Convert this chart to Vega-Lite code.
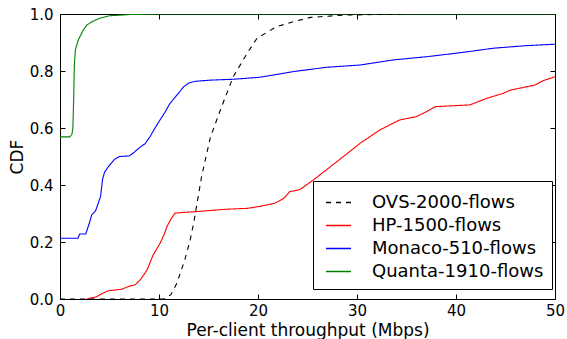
{
  "$schema": "https://vega.github.io/schema/vega-lite/v6.json",
  "width": 495,
  "height": 285,
  "autosize": "none",
  "padding": {"left": 60, "top": 14, "right": 12, "bottom": 40},
  "background": "white",
  "config": {
    "view": {"stroke": "black", "strokeWidth": 1},
    "font": "DejaVu Sans",
    "axis": {
      "domain": false,
      "grid": false,
      "tickColor": "black",
      "tickSize": -5,
      "tickWidth": 1,
      "labelFlush": false,
      "labelOverlap": false,
      "labelFont": "DejaVu Sans",
      "labelFontSize": 15,
      "labelColor": "black",
      "titleFont": "DejaVu Sans",
      "titleFontSize": 17,
      "titleFontWeight": "normal",
      "titleColor": "black"
    },
    "legend": {
      "orient": "none",
      "legendX": 253,
      "legendY": 167,
      "title": null,
      "strokeColor": "black",
      "fillColor": "white",
      "padding": 8,
      "symbolType": "stroke",
      "symbolSize": 625,
      "symbolStrokeWidth": 1.3,
      "symbolOffset": 4,
      "labelOffset": 20,
      "labelLimit": 400,
      "labelFont": "DejaVu Sans",
      "labelFontSize": 18,
      "labelColor": "black",
      "rowPadding": 0
    }
  },
  "data": {
    "values": [
      {"s": "Quanta-1910-flows", "x": 0, "y": 0.569},
      {"s": "Quanta-1910-flows", "x": 1.0, "y": 0.569},
      {"s": "Quanta-1910-flows", "x": 1.2, "y": 0.577},
      {"s": "Quanta-1910-flows", "x": 1.3, "y": 0.6},
      {"s": "Quanta-1910-flows", "x": 1.38, "y": 0.7},
      {"s": "Quanta-1910-flows", "x": 1.45, "y": 0.82},
      {"s": "Quanta-1910-flows", "x": 1.55, "y": 0.874},
      {"s": "Quanta-1910-flows", "x": 1.85, "y": 0.909},
      {"s": "Quanta-1910-flows", "x": 2.35, "y": 0.944},
      {"s": "Quanta-1910-flows", "x": 2.7, "y": 0.961},
      {"s": "Quanta-1910-flows", "x": 3.3, "y": 0.974},
      {"s": "Quanta-1910-flows", "x": 4.0, "y": 0.985},
      {"s": "Quanta-1910-flows", "x": 5.05, "y": 0.994},
      {"s": "Quanta-1910-flows", "x": 7, "y": 0.998},
      {"s": "Quanta-1910-flows", "x": 10, "y": 1.0},
      {"s": "Quanta-1910-flows", "x": 50, "y": 1.0},

      {"s": "Monaco-510-flows", "x": 0, "y": 0.213},
      {"s": "Monaco-510-flows", "x": 1.8, "y": 0.213},
      {"s": "Monaco-510-flows", "x": 2.0, "y": 0.228},
      {"s": "Monaco-510-flows", "x": 2.6, "y": 0.228},
      {"s": "Monaco-510-flows", "x": 3.0, "y": 0.27},
      {"s": "Monaco-510-flows", "x": 3.2, "y": 0.295},
      {"s": "Monaco-510-flows", "x": 3.6, "y": 0.31},
      {"s": "Monaco-510-flows", "x": 3.9, "y": 0.34},
      {"s": "Monaco-510-flows", "x": 4.1, "y": 0.36},
      {"s": "Monaco-510-flows", "x": 4.3, "y": 0.42},
      {"s": "Monaco-510-flows", "x": 4.5, "y": 0.445},
      {"s": "Monaco-510-flows", "x": 4.9, "y": 0.465},
      {"s": "Monaco-510-flows", "x": 5.5, "y": 0.49},
      {"s": "Monaco-510-flows", "x": 6.0, "y": 0.5},
      {"s": "Monaco-510-flows", "x": 7.0, "y": 0.502},
      {"s": "Monaco-510-flows", "x": 7.5, "y": 0.515},
      {"s": "Monaco-510-flows", "x": 8.1, "y": 0.533},
      {"s": "Monaco-510-flows", "x": 8.6, "y": 0.545},
      {"s": "Monaco-510-flows", "x": 9.1, "y": 0.57},
      {"s": "Monaco-510-flows", "x": 9.6, "y": 0.6},
      {"s": "Monaco-510-flows", "x": 10.1, "y": 0.628},
      {"s": "Monaco-510-flows", "x": 10.6, "y": 0.655},
      {"s": "Monaco-510-flows", "x": 11.1, "y": 0.686},
      {"s": "Monaco-510-flows", "x": 11.8, "y": 0.715},
      {"s": "Monaco-510-flows", "x": 12.5, "y": 0.745},
      {"s": "Monaco-510-flows", "x": 13.0, "y": 0.758},
      {"s": "Monaco-510-flows", "x": 13.7, "y": 0.764},
      {"s": "Monaco-510-flows", "x": 15.2, "y": 0.768},
      {"s": "Monaco-510-flows", "x": 17.5, "y": 0.771},
      {"s": "Monaco-510-flows", "x": 20.2, "y": 0.778},
      {"s": "Monaco-510-flows", "x": 23.6, "y": 0.798},
      {"s": "Monaco-510-flows", "x": 26.9, "y": 0.813},
      {"s": "Monaco-510-flows", "x": 30.3, "y": 0.821},
      {"s": "Monaco-510-flows", "x": 33.7, "y": 0.839},
      {"s": "Monaco-510-flows", "x": 37, "y": 0.85},
      {"s": "Monaco-510-flows", "x": 40.4, "y": 0.864},
      {"s": "Monaco-510-flows", "x": 43.8, "y": 0.88},
      {"s": "Monaco-510-flows", "x": 47.1, "y": 0.889},
      {"s": "Monaco-510-flows", "x": 50, "y": 0.894},

      {"s": "HP-1500-flows", "x": 2.7, "y": 0},
      {"s": "HP-1500-flows", "x": 3.7, "y": 0.008},
      {"s": "HP-1500-flows", "x": 4.3, "y": 0.02},
      {"s": "HP-1500-flows", "x": 4.9, "y": 0.029},
      {"s": "HP-1500-flows", "x": 6.2, "y": 0.034},
      {"s": "HP-1500-flows", "x": 7.1, "y": 0.046},
      {"s": "HP-1500-flows", "x": 7.6, "y": 0.05},
      {"s": "HP-1500-flows", "x": 8.1, "y": 0.067},
      {"s": "HP-1500-flows", "x": 8.8, "y": 0.102},
      {"s": "HP-1500-flows", "x": 9.4, "y": 0.154},
      {"s": "HP-1500-flows", "x": 10.1, "y": 0.195},
      {"s": "HP-1500-flows", "x": 10.5, "y": 0.225},
      {"s": "HP-1500-flows", "x": 10.8, "y": 0.254},
      {"s": "HP-1500-flows", "x": 11.2, "y": 0.28},
      {"s": "HP-1500-flows", "x": 11.6, "y": 0.301},
      {"s": "HP-1500-flows", "x": 12.5, "y": 0.304},
      {"s": "HP-1500-flows", "x": 13.5, "y": 0.306},
      {"s": "HP-1500-flows", "x": 16.8, "y": 0.315},
      {"s": "HP-1500-flows", "x": 18.9, "y": 0.318},
      {"s": "HP-1500-flows", "x": 20.2, "y": 0.325},
      {"s": "HP-1500-flows", "x": 21.7, "y": 0.336},
      {"s": "HP-1500-flows", "x": 22.6, "y": 0.353},
      {"s": "HP-1500-flows", "x": 23.2, "y": 0.377},
      {"s": "HP-1500-flows", "x": 24.2, "y": 0.383},
      {"s": "HP-1500-flows", "x": 25.6, "y": 0.418},
      {"s": "HP-1500-flows", "x": 26.9, "y": 0.453},
      {"s": "HP-1500-flows", "x": 28.6, "y": 0.499},
      {"s": "HP-1500-flows", "x": 30.3, "y": 0.546},
      {"s": "HP-1500-flows", "x": 32.3, "y": 0.593},
      {"s": "HP-1500-flows", "x": 34.3, "y": 0.628},
      {"s": "HP-1500-flows", "x": 36, "y": 0.64},
      {"s": "HP-1500-flows", "x": 37, "y": 0.657},
      {"s": "HP-1500-flows", "x": 37.9, "y": 0.675},
      {"s": "HP-1500-flows", "x": 41.4, "y": 0.681},
      {"s": "HP-1500-flows", "x": 43.1, "y": 0.704},
      {"s": "HP-1500-flows", "x": 44.8, "y": 0.722},
      {"s": "HP-1500-flows", "x": 45.5, "y": 0.733},
      {"s": "HP-1500-flows", "x": 48, "y": 0.751},
      {"s": "HP-1500-flows", "x": 48.8, "y": 0.766},
      {"s": "HP-1500-flows", "x": 50, "y": 0.78},

      {"s": "OVS-2000-flows", "x": 0, "y": 0},
      {"s": "OVS-2000-flows", "x": 10.5, "y": 0},
      {"s": "OVS-2000-flows", "x": 11.2, "y": 0.015},
      {"s": "OVS-2000-flows", "x": 11.8, "y": 0.055},
      {"s": "OVS-2000-flows", "x": 12.6, "y": 0.137},
      {"s": "OVS-2000-flows", "x": 13.1, "y": 0.2},
      {"s": "OVS-2000-flows", "x": 13.5, "y": 0.266},
      {"s": "OVS-2000-flows", "x": 14.3, "y": 0.429},
      {"s": "OVS-2000-flows", "x": 15.2, "y": 0.569},
      {"s": "OVS-2000-flows", "x": 16.2, "y": 0.663},
      {"s": "OVS-2000-flows", "x": 17.5, "y": 0.78},
      {"s": "OVS-2000-flows", "x": 18.9, "y": 0.862},
      {"s": "OVS-2000-flows", "x": 19.9, "y": 0.915},
      {"s": "OVS-2000-flows", "x": 21.9, "y": 0.956},
      {"s": "OVS-2000-flows", "x": 23.6, "y": 0.973},
      {"s": "OVS-2000-flows", "x": 25.3, "y": 0.988},
      {"s": "OVS-2000-flows", "x": 28.6, "y": 0.996},
      {"s": "OVS-2000-flows", "x": 34.5, "y": 1.0}
    ]
  },
  "layer": [
    {
      "mark": {"type": "line", "strokeWidth": 1.1, "clip": true},
      "encoding": {
        "x": {
          "field": "x", "type": "quantitative",
          "scale": {"domain": [0, 50], "nice": false, "zero": false},
          "axis": {"orient": "bottom", "values": [0, 10, 20, 30, 40, 50], "title": "Per-client throughput (Mbps)", "labelPadding": 9, "titlePadding": 4}
        },
        "y": {
          "field": "y", "type": "quantitative",
          "scale": {"domain": [0, 1], "nice": false},
          "axis": {"orient": "left", "values": [0, 0.2, 0.4, 0.6, 0.8, 1.0], "format": ".1f", "title": "CDF", "labelPadding": 12, "titlePadding": 3}
        },
        "color": {
          "field": "s", "type": "nominal",
          "scale": {"domain": ["OVS-2000-flows", "HP-1500-flows", "Monaco-510-flows", "Quanta-1910-flows"], "range": ["#000000", "#ff0000", "#0000ff", "#008000"]},
          "legend": {"title": null}
        },
        "strokeDash": {
          "field": "s", "type": "nominal",
          "scale": {"domain": ["OVS-2000-flows", "HP-1500-flows", "Monaco-510-flows", "Quanta-1910-flows"], "range": [[5, 5], [1, 0], [1, 0], [1, 0]]},
          "legend": {"title": null}
        }
      }
    },
    {
      "mark": {"type": "line", "opacity": 0},
      "encoding": {
        "x": {
          "field": "x", "type": "quantitative",
          "axis": {"orient": "top", "values": [0, 10, 20, 30, 40, 50], "labels": false, "title": null}
        },
        "y": {
          "field": "y", "type": "quantitative",
          "axis": {"orient": "right", "values": [0, 0.2, 0.4, 0.6, 0.8, 1.0], "labels": false, "title": null}
        },
        "detail": {"field": "s", "type": "nominal"}
      }
    }
  ],
  "resolve": {"axis": {"x": "independent", "y": "independent"}}
}
